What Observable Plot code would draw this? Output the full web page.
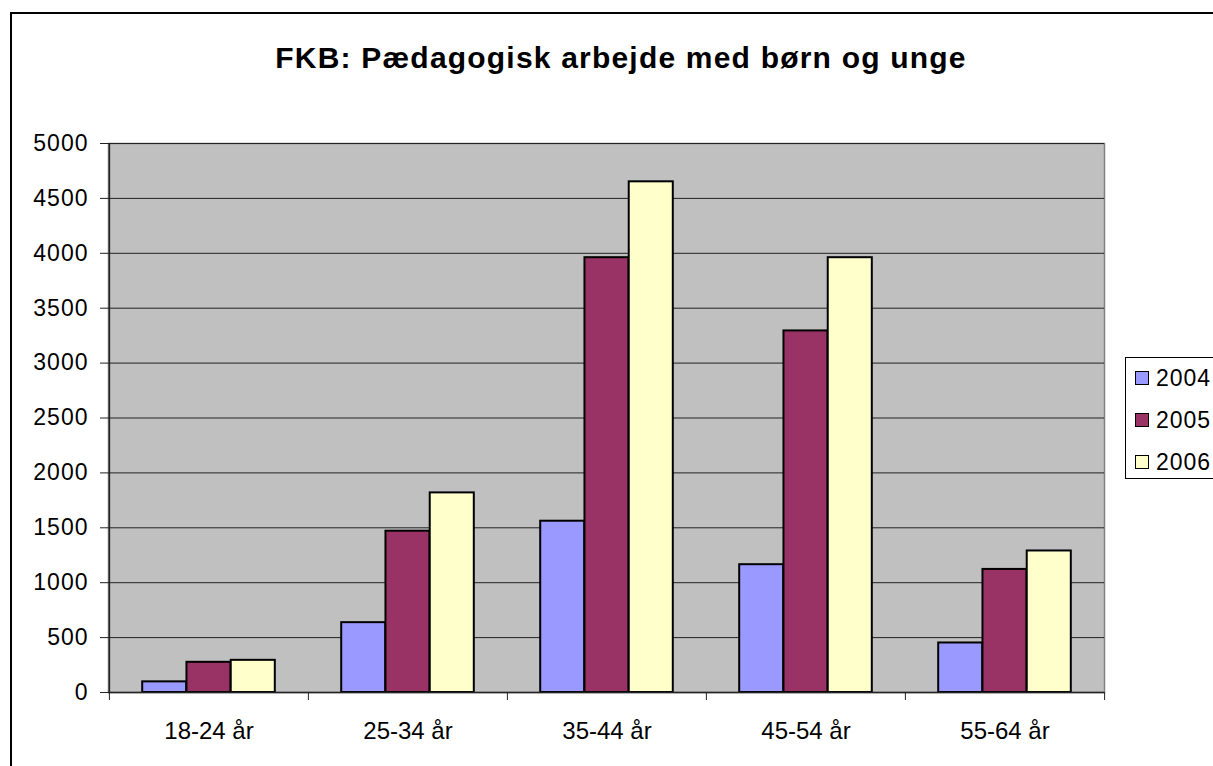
<!DOCTYPE html>
<html>
<head>
<meta charset="utf-8">
<script src="https://cdn.jsdelivr.net/npm/d3@7"></script>
<script src="https://cdn.jsdelivr.net/npm/@observablehq/plot@0.6"></script>
<style>
  html, body { margin: 0; padding: 0; background: #fff; overflow: hidden; }
  #wrap { position: relative; width: 1213px; height: 766px; overflow: hidden; font-family: "Liberation Sans", Arial, sans-serif; }
  #border { position: absolute; left: 10px; top: 12px; width: 1400px; height: 900px; border: 2px solid #000; box-sizing: border-box; pointer-events: none; }
  #title { position: absolute; left: 0; width: 1242px; top: 41px; text-align: center; font-weight: bold; font-size: 30px; letter-spacing: 1.2px; color: #000; }
  #chart { position: absolute; left: 0; top: 0; }
  #legend { position: absolute; left: 1125px; top: 357px; width: 200px; height: 122px; border: 1px solid #000; box-sizing: border-box; background: #fff; }
  .item { position: absolute; left: 9px; height: 26px; display: flex; align-items: center; font-size: 23px; letter-spacing: 1px; color: #000; }
  .sw { width: 12px; height: 12px; border: 1.5px solid #000; margin-right: 7px; }
  .yax text { letter-spacing: 1px; }
</style>
</head>
<body>
<div id="wrap">
  <div id="chart"></div>
  <div id="title">FKB: Pædagogisk arbejde med børn og unge</div>
  <div id="legend"></div>
  <div id="border"></div>
</div>
<script>
const categories = ["18-24 år", "25-34 år", "35-44 år", "45-54 år", "55-64 år"];
const years = ["2004", "2005", "2006"];
const values2004 = [97, 636, 1560, 1164, 451];
const values2005 = [275, 1469, 3960, 3293, 1121];
const values2006 = [293, 1818, 4651, 3960, 1289];
const colors = ["#9999FF", "#993366", "#FFFFCC"];
const yTicks = [0, 500, 1000, 1500, 2000, 2500, 3000, 3500, 4000, 4500, 5000];

const seriesValues = [values2004, values2005, values2006];
const data = [];
years.forEach((yr, j) => categories.forEach((c, i) => data.push({category: c, year: yr, value: seriesValues[j][i]})));

const W = 1213, H = 766;
const mL = 108, mR = 109, mT = 143, mB = 74;
const step = (W - mL - mR) / categories.length;
const bw = step / 4.5;

const barMarks = years.map((yr, j) => Plot.barY(data.filter(d => d.year === yr), {
  x: "category", y: "value",
  fill: colors[j], stroke: "#000", strokeWidth: 2,
  insetLeft: 0.75 * bw + j * bw,
  insetRight: step - (1.75 * bw + j * bw)
}));

const chart = Plot.plot({
  width: W, height: H,
  marginLeft: mL, marginRight: mR, marginTop: mT, marginBottom: mB,
  style: {background: "transparent", fontFamily: "'Liberation Sans', Arial, sans-serif", color: "#000"},
  x: {domain: categories, padding: 0, label: null},
  y: {domain: [0, 5000], label: null},
  marks: [
    Plot.frame({fill: "#C0C0C0", stroke: "#808080", strokeWidth: 1.5}),
    Plot.gridY(yTicks, {stroke: "#222", strokeOpacity: 1, strokeWidth: 1}),
    ...barMarks,
    Plot.ruleY([0], {stroke: "#222", strokeWidth: 1.5}),
    Plot.ruleX([categories[0]], {dx: -step / 2, stroke: "#222", strokeWidth: 1.5}),
    Plot.axisY({ticks: yTicks, tickSize: 8, tickPadding: 12, fontSize: 23, stroke: "#222", className: "yax", tickFormat: d => String(d)}),
    Plot.axisX({tickSize: 8, tickFormat: () => "", dx: -step / 2, stroke: "#222"}),
    Plot.axisX({ticks: [categories[categories.length - 1]], tickSize: 8, tickFormat: () => "", dx: step / 2, stroke: "#222"}),
    Plot.axisX({tickSize: 0, tickPadding: 29, fontSize: 24})
  ]
});
document.getElementById("chart").appendChild(chart);

const legend = document.getElementById("legend");
years.forEach((yr, j) => {
  const it = document.createElement("div");
  it.className = "item";
  it.style.top = (7 + j * 42) + "px";
  it.innerHTML = `<span class="sw" style="background:${colors[j]}"></span><span>${yr}</span>`;
  legend.appendChild(it);
});
</script>
</body>
</html>
